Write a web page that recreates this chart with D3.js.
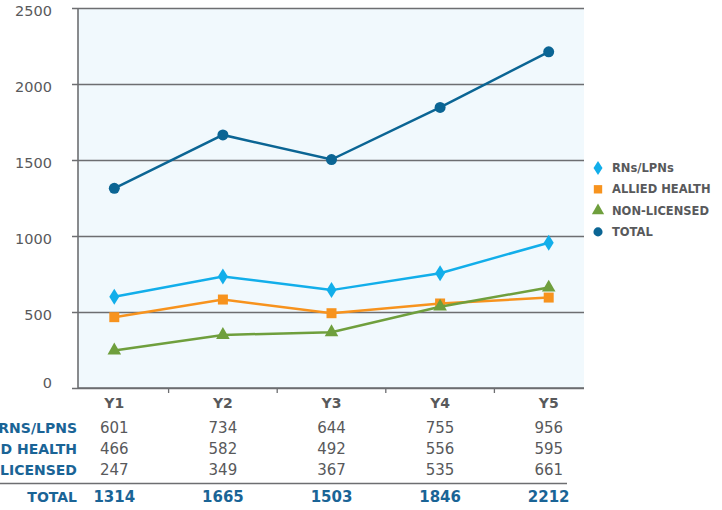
<!DOCTYPE html>
<html>
<head>
<meta charset="utf-8">
<script src="https://cdn.jsdelivr.net/npm/d3@7"></script>
<style>
  body { margin: 0; background: #fff; }
  svg { display: block; font-family: "DejaVu Sans", sans-serif; }
</style>
</head>
<body>
<svg id="chart" width="722" height="510"></svg>
<script>
  const years = ["Y1", "Y2", "Y3", "Y4", "Y5"];
  const rns = [601, 734, 644, 755, 956];
  const allied = [466, 582, 492, 556, 595];
  const nonLicensed = [247, 349, 367, 535, 661];
  const total = [1314, 1665, 1503, 1846, 2212];
  const yTicks = [0, 500, 1000, 1500, 2000, 2500];

  const series = [
    {name: "RNs/LPNs", row: "RNS/LPNS", values: rns, color: "#12aeea", symbol: "diamond"},
    {name: "ALLIED HEALTH", row: "ALLIED HEALTH", values: allied, color: "#f7931e", symbol: "square"},
    {name: "NON-LICENSED", row: "NON-LICENSED", values: nonLicensed, color: "#6f9f3d", symbol: "triangle"},
    {name: "TOTAL", row: "TOTAL", values: total, color: "#0b6594", symbol: "circle"}
  ];

  const plot = {left: 78, right: 584, top: 8, bottom: 388};

  let svg = d3.select("#chart");

  let x = d3.scaleBand()
            .domain(years)
            .range([60, 603]);

  let y = d3.scaleLinear()
            .domain([0, 2500])
            .range([plot.bottom, plot.top]);

  // Plot background
  svg.append("rect")
     .attr("x", plot.left)
     .attr("y", plot.top)
     .attr("width", plot.right - plot.left)
     .attr("height", plot.bottom - plot.top)
     .style("fill", "#f1f9fd");

  // y-Axis with gridlines
  let yAxis = d3.axisLeft(y)
                .tickValues(yTicks)
                .tickFormat(d3.format("d"))
                .tickSize(-(plot.right - plot.left) - 6)
                .tickPadding(20);

  let yG = svg.append("g")
              .attr("transform", "translate(" + (plot.left - 6) + ",0)")
              .call(yAxis);
  yG.select(".domain").remove();
  yG.selectAll(".tick line")
    .attr("stroke", "#6d6e71")
    .attr("stroke-width", 1.3);
  yG.selectAll(".tick text")
    .attr("fill", "#58595b")
    .attr("font-size", 14.5)
    .attr("font-family", "DejaVu Sans")
    .attr("dy", (d) => d === 0 ? "-0.05em" : "0.5em");

  // Axis lines
  svg.append("line")
     .attr("x1", plot.left).attr("x2", plot.left)
     .attr("y1", plot.top).attr("y2", plot.bottom)
     .attr("stroke", "#6d6e71").attr("stroke-width", 1.6);
  svg.append("line")
     .attr("x1", plot.left).attr("x2", plot.right)
     .attr("y1", plot.bottom).attr("y2", plot.bottom)
     .attr("stroke", "#6d6e71").attr("stroke-width", 1.6);

  // Tick marks between categories
  svg.selectAll(".xtick")
     .data(years.slice(1))
     .enter()
     .append("line")
     .attr("class", "xtick")
     .attr("x1", (d) => x(d)).attr("x2", (d) => x(d))
     .attr("y1", plot.bottom).attr("y2", plot.bottom + 5)
     .attr("stroke", "#6d6e71").attr("stroke-width", 1.3);

  // Category labels
  svg.selectAll(".xlabel")
     .data(years)
     .enter()
     .append("text")
     .attr("class", "xlabel")
     .attr("x", (d) => x(d) + x.bandwidth() / 2)
     .attr("y", 408)
     .attr("text-anchor", "middle")
     .attr("font-size", 14)
     .attr("font-weight", "bold")
     .attr("fill", "#58595b")
     .text((d) => d);

  let cx = (d, i) => x(years[i]) + x.bandwidth() / 2;

  let line = d3.line()
               .x(cx)
               .y((d) => y(d));

  const symbols = {
    circle: d3.symbol().type(d3.symbolCircle).size(95),
    square: d3.symbol().type(d3.symbolSquare).size(100),
    triangle: d3.symbol().type(d3.symbolTriangle).size(80)
  };

  function markerPath (s) {
    if (s === "diamond") return "M0,-8L5,0L0,8L-5,0Z";
    return symbols[s]();
  }

  // Draw series lines (total last so it sits on top)
  series.forEach((s) => {
    svg.append("path")
       .datum(s.values)
       .attr("d", line)
       .style("fill", "none")
       .style("stroke", s.color)
       .style("stroke-width", 2.5);

    svg.selectAll(null)
       .data(s.values)
       .enter()
       .append("path")
       .attr("d", markerPath(s.symbol))
       .attr("transform", (d, i) => "translate(" + cx(d, i) + "," + y(d) + ")")
       .style("fill", s.color);
  });

  // Legend
  let legend = svg.append("g")
                  .attr("transform", "translate(598,168)");
  series.forEach((s, i) => {
    let g = legend.append("g").attr("transform", "translate(0," + (i * 21.3) + ")");
    g.append("path")
     .attr("d", s.symbol === "diamond" ? "M0,-7L4.5,0L0,7L-4.5,0Z" : d3.symbol().type(
        s.symbol === "square" ? d3.symbolSquare : s.symbol === "triangle" ? d3.symbolTriangle : d3.symbolCircle
      ).size(s.symbol === "square" ? 70 : 65)())
     .style("fill", s.color);
    g.append("text")
     .attr("x", 14)
     .attr("dy", "0.36em")
     .attr("font-size", 11.5)
     .attr("font-weight", "bold")
     .attr("fill", "#58595b")
     .text(s.name);
  });

  // Data table
  const rowY = [433, 454, 475, 502];
  series.forEach((s, r) => {
    let isTotal = s.symbol === "circle";
    svg.append("text")
       .attr("x", 77)
       .attr("y", rowY[r])
       .attr("text-anchor", "end")
       .attr("font-size", 14)
       .attr("font-weight", "bold")
       .attr("fill", "#1a6496")
       .text(s.row);

    svg.selectAll(null)
       .data(s.values)
       .enter()
       .append("text")
       .attr("x", cx)
       .attr("y", rowY[r])
       .attr("text-anchor", "middle")
       .attr("font-size", 15)
       .attr("font-weight", isTotal ? "bold" : "normal")
       .attr("fill", isTotal ? "#1a6496" : "#58595b")
       .text((d) => d);
  });

  // Separator above total row
  svg.append("line")
     .attr("x1", 0).attr("x2", 567)
     .attr("y1", 483.5).attr("y2", 483.5)
     .attr("stroke", "#6d6e71")
     .attr("stroke-width", 1.3);
</script>
</body>
</html>
